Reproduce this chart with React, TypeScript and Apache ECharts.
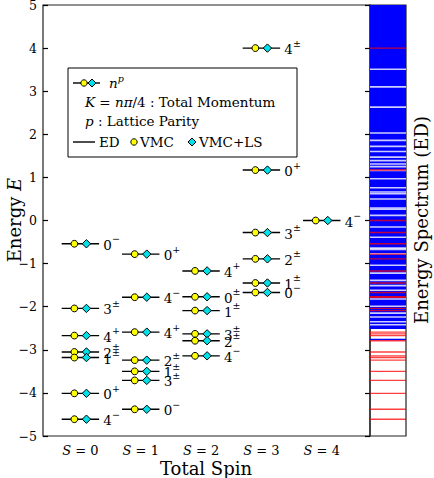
import React, { useEffect, useRef } from "react";
import * as echarts from "echarts";

// ---------- data ----------
const spinValues = [0, 1, 2, 3, 4];

// S = 0
const energyS0 = [-0.54, -2.04, -2.67, -3.05, -3.18, -4.01, -4.61];
const momentumS0 = [0, 3, 4, 2, 1, 0, 4];
const parityS0 = ["−", "±", "+", "±", "±", "+", "−"];
// S = 1
const energyS1 = [-0.78, -1.78, -2.59, -3.24, -3.5, -3.71, -4.38];
const momentumS1 = [0, 4, 4, 2, 1, 3, 0];
const parityS1 = ["+", "−", "+", "±", "±", "±", "−"];
// S = 2
const energyS2 = [-1.17, -1.77, -2.09, -2.63, -2.79, -3.14];
const momentumS2 = [4, 0, 1, 3, 2, 4];
const parityS2 = ["+", "±", "±", "±", "±", "−"];
// S = 3
const energyS3 = [4.0, 1.17, -0.28, -0.89, -1.45, -1.67];
const momentumS3 = [4, 0, 3, 2, 1, 0];
const parityS3 = ["±", "+", "±", "±", "±", "−"];
// S = 4
const energyS4 = [0.0];
const momentumS4 = [4];
const parityS4 = ["−"];

// ED spectrum panel
const spectrumBand = [-2.52, 5];
const spectrumGaps = [
  3.51, 3.1, 2.63, 2.03, 1.86, 1.72, 1.6, 1.47, 1.39, 1.31, 1.25, 1.16, 0.97,
  0.76, 0.66, 0.62, 0.5, 0.29, 0.26, 0.12, -0.15, -0.39, -0.64, -0.67, -0.77,
  -1.04, -1.22, -1.39, -1.51, -1.62, -1.82, -1.99, -2.15, -2.24, -2.35, -2.42,
];
const spectrumBlueLines = [-2.76];

const yMin = -5;
const yMax = 5;
const xMin = -0.62;
const xMax = 4.8;

// ---------- build ----------
const energies = [energyS0, energyS1, energyS2, energyS3, energyS4];
const momenta = [momentumS0, momentumS1, momentumS2, momentumS3, momentumS4];
const parities = [parityS0, parityS1, parityS2, parityS3, parityS4];

type Level = { s: number; e: number; n: number; p: string };
const levels: Level[] = [];
spinValues.forEach((s, k) => {
  energies[k].forEach((e, i) => {
    levels.push({ s, e, n: momenta[k][i], p: parities[k][i] });
  });
});
const redLines = levels.map((l) => l.e);

const FONT = "'DejaVu Serif', 'Liberation Serif', serif";

const labelRich = {
  b: { fontFamily: FONT, fontSize: 13.5, lineHeight: 22, verticalAlign: "middle", color: "#000" },
  s: { fontFamily: FONT, fontSize: 9.5, lineHeight: 10, verticalAlign: "top", color: "#000" },
};

const LF = 13.5;
const legendRich = {
  r: { fontFamily: FONT, fontSize: LF, lineHeight: 20, verticalAlign: "middle", color: "#000" },
  i: { fontFamily: FONT, fontSize: LF, fontStyle: "italic", lineHeight: 20, verticalAlign: "middle", color: "#000" },
  si: { fontFamily: FONT, fontSize: 9.5, fontStyle: "italic", lineHeight: 10, verticalAlign: "top", color: "#000" },
};

const nameRich = {
  r: { fontFamily: FONT, fontSize: 18, color: "#000" },
  i: { fontFamily: FONT, fontSize: 18, fontStyle: "italic", color: "#000" },
};

function diamondPoints(x: number, y: number, r: number) {
  return [
    [x, y - r],
    [x + r, y],
    [x, y + r],
    [x - r, y],
  ];
}

function levelRender(params: any, api: any) {
  const lv = levels[params.dataIndex];
  const c = api.coord([lv.s, lv.e]);
  const unit = api.size([1, 0])[0];
  const hw = 0.31 * unit;
  const off = 0.1 * unit;
  return {
    type: "group",
    children: [
      {
        type: "line",
        shape: { x1: c[0] - hw, y1: c[1], x2: c[0] + hw, y2: c[1] },
        style: { stroke: "#000", lineWidth: 1.4 },
      },
      {
        type: "circle",
        shape: { cx: c[0] - off, cy: c[1], r: 3.4 },
        style: { fill: "#ffff00", stroke: "#000", lineWidth: 1 },
      },
      {
        type: "polygon",
        shape: { points: diamondPoints(c[0] + off, c[1], 4.2) },
        style: { fill: "#00e0e8", stroke: "#000", lineWidth: 1 },
      },
      {
        type: "text",
        x: c[0] + 0.38 * unit,
        y: c[1] + 1,
        style: {
          text: `{b|${lv.n}}{s|${lv.p}}`,
          rich: labelRich,
          align: "left",
          verticalAlign: "middle",
        },
      },
    ],
  };
}

function bandRender(params: any, api: any) {
  const p1 = api.coord([0, api.value(1)]);
  const p2 = api.coord([1, api.value(0)]);
  return {
    type: "rect",
    shape: { x: p1[0], y: p1[1], width: p2[0] - p1[0], height: p2[1] - p1[1] },
    style: { fill: "#0000ff" },
  };
}

function lineRender(color: string, h: number) {
  return (params: any, api: any) => {
    const p1 = api.coord([0, api.value(0)]);
    const p2 = api.coord([1, api.value(0)]);
    return {
      type: "rect",
      shape: { x: p1[0], y: p1[1] - h / 2, width: p2[0] - p1[0], height: h },
      style: { fill: color },
    };
  };
}

const option: any = {
  animation: false,
  backgroundColor: "#fff",
  grid: [
    {
      left: 43, top: 5, width: 327, height: 431, show: true, borderColor: "#222", borderWidth: 1.2,
      backgroundColor: "transparent", containLabel: false, outerBoundsMode: "none",
    },
    {
      left: 370, top: 5, width: 36, height: 431, show: true, borderColor: "#222", borderWidth: 1.2,
      backgroundColor: "transparent", containLabel: false, outerBoundsMode: "none",
    },
  ],
  xAxis: [
    {
      gridIndex: 0,
      type: "value",
      min: xMin,
      max: xMax,
      axisLine: { show: false, onZero: false },
      axisTick: { show: false },
      splitLine: { show: false },
      axisLabel: {
        customValues: spinValues,
        margin: 8,
        formatter: (v: number) => `{i|S}{r| = ${v}}`,
        rich: {
          i: { fontFamily: FONT, fontSize: 13, fontStyle: "italic", color: "#000" },
          r: { fontFamily: FONT, fontSize: 13, color: "#000" },
        },
      },
    },
    {
      gridIndex: 1,
      type: "value",
      min: 0,
      max: 1,
      show: false,
    },
  ],
  yAxis: [
    {
      gridIndex: 0,
      type: "value",
      min: yMin,
      max: yMax,
      interval: 1,
      axisLine: { show: false, onZero: false },
      axisTick: { show: true, inside: true, length: 5, lineStyle: { color: "#000", width: 1.2 } },
      splitLine: { show: false },
      axisLabel: {
        margin: 6,
        fontFamily: FONT,
        fontSize: 12.5,
        color: "#000",
        formatter: (v: number) => (v < 0 ? "−" + Math.abs(v) : String(v)),
      },
    },
    {
      gridIndex: 1,
      type: "value",
      min: yMin,
      max: yMax,
      interval: 1,
      axisLine: { show: false, onZero: false },
      axisTick: { show: true, inside: false, length: 5, lineStyle: { color: "#000", width: 1.2 } },
      splitLine: { show: false },
      axisLabel: { show: false },
    },
  ],
  series: [
    {
      type: "custom",
      xAxisIndex: 1,
      yAxisIndex: 1,
      renderItem: bandRender,
      data: [spectrumBand],
      z: 1,
    },
    {
      type: "custom",
      xAxisIndex: 1,
      yAxisIndex: 1,
      renderItem: lineRender("rgba(255,255,255,0.8)", 1.6),
      data: spectrumGaps.map((e) => [e]),
      z: 2,
    },
    {
      type: "custom",
      xAxisIndex: 1,
      yAxisIndex: 1,
      renderItem: lineRender("#0000ff", 1.6),
      data: spectrumBlueLines.map((e) => [e]),
      z: 3,
    },
    {
      type: "custom",
      xAxisIndex: 1,
      yAxisIndex: 1,
      renderItem: lineRender("rgba(255,0,0,0.75)", 1.4),
      data: redLines.map((e) => [e]),
      z: 4,
    },
    {
      type: "custom",
      xAxisIndex: 0,
      yAxisIndex: 0,
      renderItem: levelRender,
      data: levels.map((l) => [l.s, l.e]),
      z: 5,
    },
  ],
  graphic: [
    {
      type: "text",
      x: 14,
      y: 220,
      rotation: Math.PI / 2,
      style: {
        text: "{r|Energy }{i|E}",
        rich: nameRich,
        align: "center",
        verticalAlign: "middle",
      },
    },
    {
      type: "text",
      x: 206,
      y: 468,
      style: {
        text: "Total Spin",
        fontFamily: FONT,
        fontSize: 18,
        fill: "#000",
        align: "center",
        verticalAlign: "middle",
      },
    },
    {
      type: "text",
      x: 421,
      y: 220,
      rotation: Math.PI / 2,
      style: {
        text: "Energy Spectrum (ED)",
        fontFamily: FONT,
        fontSize: 18,
        fill: "#000",
        align: "center",
        verticalAlign: "middle",
      },
    },
    {
      type: "group",
      z: 100,
      children: [
        {
          type: "rect",
          shape: { x: 68, y: 68, width: 229, height: 89 },
          style: { fill: "#fff", stroke: "#000", lineWidth: 1 },
        },
        { type: "line", shape: { x1: 73, y1: 83, x2: 100, y2: 83 }, style: { stroke: "#000", lineWidth: 1.4 } },
        { type: "circle", shape: { cx: 84, cy: 83, r: 3.2 }, style: { fill: "#ffff00", stroke: "#000", lineWidth: 1 } },
        { type: "polygon", shape: { points: diamondPoints(92, 83, 4) }, style: { fill: "#00e0e8", stroke: "#000", lineWidth: 1 } },
        {
          type: "text",
          x: 109,
          y: 83,
          style: { text: "{i|n}{si|p}", rich: legendRich, align: "left", verticalAlign: "middle" },
        },
        {
          type: "text",
          x: 85,
          y: 102,
          style: {
            text: "{i|K}{r| = }{i|nπ}{r|/4 : Total Momentum}",
            rich: legendRich,
            align: "left",
            verticalAlign: "middle",
          },
        },
        {
          type: "text",
          x: 85,
          y: 121,
          style: { text: "{i|p}{r| : Lattice Parity}", rich: legendRich, align: "left", verticalAlign: "middle" },
        },
        { type: "line", shape: { x1: 73, y1: 142, x2: 95, y2: 142 }, style: { stroke: "#000", lineWidth: 1.4 } },
        {
          type: "text",
          x: 99,
          y: 142,
          style: { text: "{r|ED}", rich: legendRich, align: "left", verticalAlign: "middle" },
        },
        { type: "circle", shape: { cx: 134, cy: 142, r: 3.2 }, style: { fill: "#ffff00", stroke: "#000", lineWidth: 1 } },
        {
          type: "text",
          x: 140,
          y: 142,
          style: { text: "{r|VMC}", rich: legendRich, align: "left", verticalAlign: "middle" },
        },
        { type: "polygon", shape: { points: diamondPoints(192, 142, 4) }, style: { fill: "#00e0e8", stroke: "#000", lineWidth: 1 } },
        {
          type: "text",
          x: 199,
          y: 142,
          style: { text: "{r|VMC+LS}", rich: legendRich, align: "left", verticalAlign: "middle" },
        },
      ],
    },
  ],
};

export default function App() {
  const ref = useRef<HTMLDivElement>(null);
  useEffect(() => {
    const chart = echarts.init(ref.current!, null, { renderer: "svg" });
    chart.setOption(option);
    return () => chart.dispose();
  }, []);
  return (
    <div
      ref={ref}
      style={{ position: "fixed", left: 0, top: 0, width: 434, height: 478 }}
    />
  );
}
